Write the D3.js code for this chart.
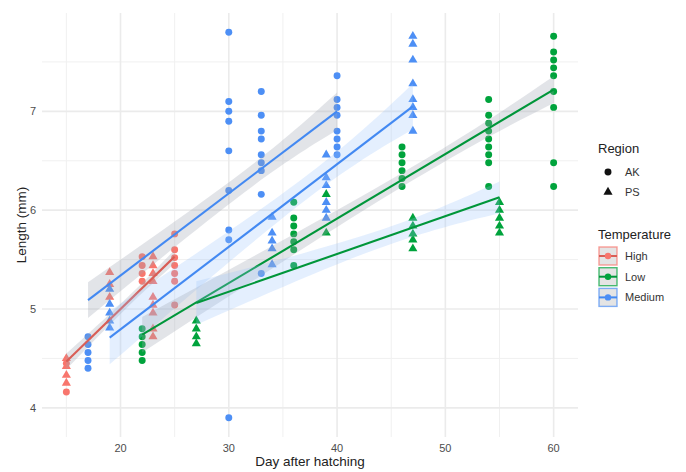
<!DOCTYPE html>
<html>
<head>
<meta charset="utf-8">
<script src="https://cdn.jsdelivr.net/npm/d3@7"></script>
<style>
  body { margin: 0; background: #fff; }
  text { font-family: "Liberation Sans", Arial, sans-serif; }
</style>
</head>
<body>
<div id="chart-container"></div>
<script>
// points: [day, [lengths]] per temperature / region
const highAK = [[15, [4.45, 4.16]], [22, [5.53, 5.44, 5.36, 5.28]], [25, [5.76, 5.60, 5.52, 5.44, 5.36, 5.28, 5.04]]]
const highPS = [[15, [4.50, 4.42, 4.33, 4.25]], [19, [5.37, 5.25, 5.12]], [23, [5.53, 5.44, 5.36, 5.28, 5.12, 5.04, 4.96, 4.80, 4.72]]]
const mediumAK = [[17, [4.72, 4.64, 4.56, 4.48, 4.40]], [30, [7.80, 7.10, 7.00, 6.90, 6.60, 6.20, 5.80, 5.70, 3.90]],
    [33, [7.20, 6.96, 6.80, 6.72, 6.56, 6.48, 6.40, 6.16, 5.36]], [40, [7.36, 7.12, 7.04, 6.96, 6.80, 6.72, 6.64, 6.56]]]
const mediumPS = [[19, [5.20, 5.05, 4.96, 4.88, 4.81]], [34, [5.93, 5.77, 5.69, 5.61, 5.45]],
    [39, [6.56, 6.33, 6.25, 6.08, 6.00, 5.92]], [47, [7.76, 7.68, 7.52, 7.28, 7.12, 7.04, 6.96, 6.80]]]
const lowAK = [[22, [4.80, 4.72, 4.64, 4.56, 4.48]], [36, [6.08, 5.92, 5.84, 5.76, 5.68, 5.60, 5.44]],
    [46, [6.64, 6.56, 6.48, 6.40, 6.32, 6.24]], [54, [7.12, 6.96, 6.88, 6.80, 6.72, 6.64, 6.56, 6.48, 6.24]],
    [60, [7.76, 7.60, 7.52, 7.44, 7.36, 7.20, 7.04, 6.48, 6.24]]]
const lowPS = [[27, [4.88, 4.80, 4.72, 4.65]], [39, [6.16, 5.77]], [47, [5.92, 5.84, 5.76, 5.70, 5.61]], [55, [6.08, 6.00, 5.92, 5.84, 5.77]]]

// fitted lines
const fitTemp = ["High", "Medium", "Medium", "Low", "Low"]
const fitRegion = ["AK", "AK", "PS", "AK", "PS"]
const fitDays = [[15, 25], [17, 40], [19, 47], [22, 60], [27, 55]]
const fitLength = [[4.47, 5.53], [5.09, 7.00], [4.71, 7.05], [4.74, 7.22], [5.06, 6.13]]
const fitMidDay = [20.5, 31.4, 36.5, 46, 43.5]
const fitHalfWidth = [[0.08, 0.05, 0.07], [0.18, 0.11, 0.19], [0.27, 0.12, 0.23], [0.18, 0.07, 0.135], [0.22, 0.09, 0.16]]

const temperatures = ["High", "Low", "Medium"]
const regions = ["AK", "PS"]
const xTicks = [20, 30, 40, 50, 60]
const yTicks = [4, 5, 6, 7]

const width = 686, height = 472
const panel = { left: 42, right: 578, top: 13, bottom: 437 }

const color = d3.scaleOrdinal(temperatures, ["#F8766D", "#00A33C", "#4D8FF5"])
const lineColor = d3.scaleOrdinal(temperatures, ["#D95E56", "#00963A", "#4389F2"])
const bandFill = d3.scaleOrdinal(regions, ["rgba(160,165,180,0.30)", "rgba(150,195,250,0.26)"])

const x = d3.scaleLinear().domain([12.75, 62.25]).range([panel.left, panel.right])
const y = d3.scaleLinear().domain([3.705, 7.995]).range([panel.bottom, panel.top])

const svg = d3.select("#chart-container").append("svg")
    .attr("width", width).attr("height", height)

// grid
const grid = svg.append("g")
const minorX = xTicks.map(d => d - 5).concat([xTicks[xTicks.length - 1] + 5]).filter(d => d > 12.75 && d < 62.25)
const minorY = yTicks.map(d => d + 0.5).filter(d => d < 7.995)
grid.selectAll(".minx").data(minorX).enter().append("line")
    .attr("x1", d => x(d)).attr("x2", d => x(d)).attr("y1", panel.top).attr("y2", panel.bottom)
    .attr("stroke", "#F0F0F0").attr("stroke-width", 1)
grid.selectAll(".miny").data(minorY).enter().append("line")
    .attr("y1", d => y(d)).attr("y2", d => y(d)).attr("x1", panel.left).attr("x2", panel.right)
    .attr("stroke", "#F0F0F0").attr("stroke-width", 1)
grid.selectAll(".majx").data(xTicks).enter().append("line")
    .attr("x1", d => x(d)).attr("x2", d => x(d)).attr("y1", panel.top).attr("y2", panel.bottom)
    .attr("stroke", "#EBEBEB").attr("stroke-width", 1.6)
grid.selectAll(".majy").data(yTicks).enter().append("line")
    .attr("y1", d => y(d)).attr("y2", d => y(d)).attr("x1", panel.left).attr("x2", panel.right)
    .attr("stroke", "#EBEBEB").attr("stroke-width", 1.6)

// tick labels
svg.selectAll(".xt").data(xTicks).enter().append("text")
    .attr("x", d => x(d)).attr("y", 452).attr("text-anchor", "middle")
    .attr("font-size", 11).attr("fill", "#4D4D4D").text(d => d)
svg.selectAll(".yt").data(yTicks).enter().append("text")
    .attr("x", 36).attr("y", d => y(d) + 4).attr("text-anchor", "end")
    .attr("font-size", 11).attr("fill", "#4D4D4D").text(d => d)

svg.append("text").attr("x", (panel.left + panel.right) / 2).attr("y", 466)
    .attr("text-anchor", "middle").attr("font-size", 13.5).attr("fill", "#222").text("Day after hatching")
svg.append("text").attr("transform", "translate(26," + ((panel.top + panel.bottom) / 2) + ") rotate(-90)")
    .attr("text-anchor", "middle").attr("font-size", 13.5).attr("fill", "#222").text("Length (mm)")

// points
const groups = [
    { temp: "High", region: "AK", data: highAK },
    { temp: "High", region: "PS", data: highPS },
    { temp: "Medium", region: "AK", data: mediumAK },
    { temp: "Medium", region: "PS", data: mediumPS },
    { temp: "Low", region: "AK", data: lowAK },
    { temp: "Low", region: "PS", data: lowPS }
]
const points = []
groups.forEach(g => g.data.forEach(([day, lengths]) => lengths.forEach(len => {
    points.push({ day: day, length: len, temp: g.temp, region: g.region })
})))

const shape = d3.scaleOrdinal(regions, [d3.symbolCircle, d3.symbolTriangle])
const shapeSize = d3.scaleOrdinal(regions, [38, 36])
svg.append("g").selectAll("path").data(points).enter().append("path")
    .attr("transform", d => "translate(" + x(d.day) + "," + y(d.length) + ")")
    .attr("d", d => d3.symbol(shape(d.region), shapeSize(d.region))())
    .attr("fill", d => color(d.temp))

// smooths
const fits = fitTemp.map((t, i) => {
    const line = d3.scaleLinear().domain(fitDays[i]).range(fitLength[i])
    const days = [fitDays[i][0], fitMidDay[i], fitDays[i][1]]
    return { temp: t, region: fitRegion[i], line: line, band: days.map((d, j) => ({ day: d, hw: fitHalfWidth[i][j] })) }
})
const area = d3.area().curve(d3.curveNatural)
const smooth = svg.append("g")
fits.forEach(f => {
    smooth.append("path")
        .attr("d", area.x(d => x(d.day)).y0(d => y(f.line(d.day) - d.hw)).y1(d => y(f.line(d.day) + d.hw))(f.band))
        .attr("fill", bandFill(f.region))
    smooth.append("line")
        .attr("x1", x(f.line.domain()[0])).attr("y1", y(f.line.range()[0]))
        .attr("x2", x(f.line.domain()[1])).attr("y2", y(f.line.range()[1]))
        .attr("stroke", lineColor(f.temp)).attr("stroke-width", 2.1)
})

// legends
const legend = svg.append("g").attr("transform", "translate(598,0)")
legend.append("text").attr("x", 0).attr("y", 153).attr("font-size", 13).attr("fill", "#222").text("Region")
regions.forEach((r, i) => {
    legend.append("path")
        .attr("transform", "translate(10," + (172 + i * 20) + ")")
        .attr("d", d3.symbol(shape(r), shapeSize(r))())
        .attr("fill", "#111")
    legend.append("text").attr("x", 27).attr("y", 176 + i * 20).attr("font-size", 11).attr("fill", "#333").text(r)
})

legend.append("text").attr("x", 0).attr("y", 239).attr("font-size", 13).attr("fill", "#222").text("Temperature")
temperatures.forEach((t, i) => {
    const ky = 247 + i * 20.7
    legend.append("rect").attr("x", 1).attr("y", ky).attr("width", 18).attr("height", 18)
        .attr("fill", "#E4E4E4").attr("stroke", color(t)).attr("stroke-opacity", 0.7).attr("stroke-width", 1.4)
    legend.append("line").attr("x1", 1).attr("x2", 19).attr("y1", ky + 9).attr("y2", ky + 9)
        .attr("stroke", lineColor(t)).attr("stroke-width", 2)
    legend.append("circle").attr("cx", 10).attr("cy", ky + 9).attr("r", 3.2).attr("fill", color(t))
    legend.append("text").attr("x", 27).attr("y", ky + 13).attr("font-size", 11).attr("fill", "#333").text(t)
})
</script>
</body>
</html>
